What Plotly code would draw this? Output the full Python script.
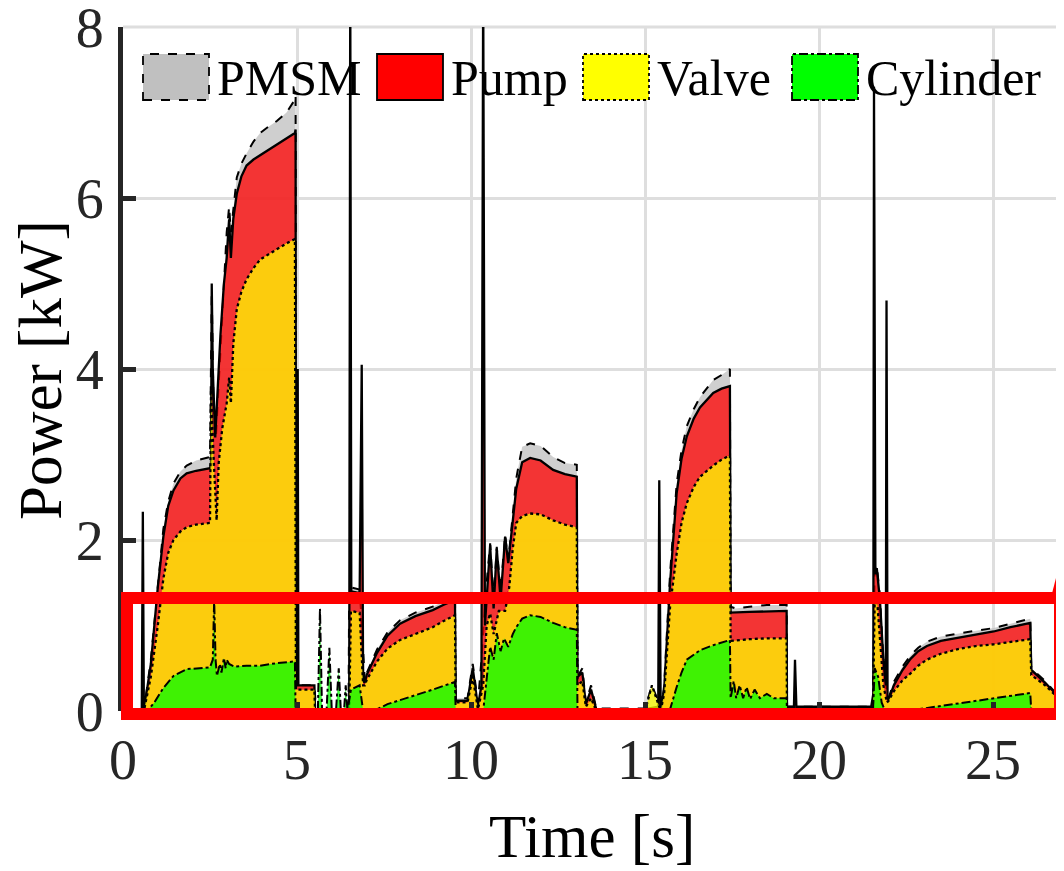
import plotly.graph_objects as go

# ---------------- data ----------------
pmsm_t = [0, 0.6, 0.8, 1.0, 1.16, 1.3, 1.45, 1.65, 1.83, 2.1, 2.5,
          2.55, 2.6, 2.67, 2.75, 2.85, 2.98, 3.05, 3.1, 3.17, 3.27, 3.4, 3.55, 3.75, 3.94, 4.2, 4.42, 4.7, 4.94, 4.96,
          4.97, 5.5, 5.55, 6.48, 6.5, 6.8, 6.82, 6.95, 7.0, 7.3, 7.6, 7.96, 8.4, 8.9, 9.2, 9.54,
          9.56, 9.9, 10.05, 10.2, 10.3, 10.45, 10.55, 10.65, 10.74, 10.85, 10.98, 11.07, 11.2, 11.3, 11.47, 11.7,
          12.0, 12.36, 12.7, 13.04, 13.06, 13.2, 13.3, 13.45, 13.6, 15.0, 15.2, 15.47, 15.55, 15.72, 15.91, 16.05,
          16.2, 16.4, 16.58, 16.96, 17.2, 17.44, 17.46, 17.6, 18.0, 18.5, 19.07, 19.08, 21.5, 21.55, 21.6, 21.66,
          21.75, 21.85, 21.95, 22.0, 22.15, 22.4, 22.63, 22.85, 23.1, 23.5, 24.06, 24.5, 25.02, 25.5, 26.07, 26.1,
          26.5, 26.83, 27.04]
pmsm_p = [0, 0, 0.6, 1.5, 2.13, 2.45, 2.66, 2.8, 2.87, 2.93, 2.97,
          4.9, 3.6, 3.2, 3.9, 4.6, 5.6, 5.9, 5.6, 5.86, 6.24, 6.4, 6.52, 6.66, 6.76, 6.84, 6.9, 7.0, 7.15, 7.2,
          0.3, 0.3, 0, 0, 1.45, 1.42, 1.3, 0.35, 0.44, 0.72, 0.92, 1.06, 1.15, 1.22, 1.28, 1.35,
          0.15, 0.15, 0.55, 0.1, 0.6, 1.5, 1.96, 1.3, 1.92, 1.4, 2.06, 1.75, 2.3, 2.72, 3.09, 3.13,
          3.1, 2.97, 2.9, 2.88, 0.4, 0.5, 0.1, 0.3, 0.03, 0.03, 0.3, 0.02, 0.3, 1.61, 2.66, 3.05,
          3.33, 3.53, 3.67, 3.87, 3.93, 4.0, 1.22, 1.2, 1.22, 1.24, 1.24, 0.05, 0.05, 0.1, 1.6, 1.7,
          1.35, 0.6, 0.2, 0.15, 0.34, 0.52, 0.65, 0.74, 0.81, 0.87, 0.91, 0.94, 0.97, 1.02, 1.08, 0.5,
          0.35, 0.2, 0.12]

pump_t = [0, 0.54, 0.57, 0.6, 0.8, 1.0, 1.16, 1.3, 1.45, 1.65, 1.83, 2.1, 2.5, 2.53, 2.55, 2.58, 2.65, 2.72,
          2.8, 2.9, 2.98, 3.05, 3.1, 3.17, 3.27, 3.4, 3.55, 3.75, 3.94, 4.2, 4.42, 4.7, 4.94, 4.96, 4.97, 5.0,
          5.02, 5.04, 5.5, 5.52, 6.5, 6.53, 6.56, 6.8, 6.86, 6.9, 6.95, 7.0, 7.3, 7.6, 7.96, 8.4, 8.9, 9.2, 9.54,
          9.56, 9.9, 10.05, 10.2, 10.3, 10.35, 10.4, 10.55, 10.65, 10.74, 10.85, 10.98, 11.07, 11.2, 11.3, 11.47,
          11.7, 12.0, 12.36, 12.7, 13.04, 13.06, 13.2, 13.3, 13.45, 13.6, 15.0, 15.38, 15.41, 15.45, 15.55,
          15.72, 15.91, 16.05, 16.2, 16.4, 16.58, 16.96, 17.2, 17.44, 17.46, 18.0, 19.07, 19.08, 19.28, 19.31,
          19.35, 21.5, 21.56, 21.58, 21.62, 21.66, 21.75, 21.85, 21.92, 21.94, 21.97, 22.0, 22.15, 22.4, 22.63,
          22.85, 23.1, 23.5, 24.06, 24.5, 25.02, 25.5, 26.07, 26.1, 26.5, 26.83, 27.04]
pump_p = [0, 0, 2.33, 0, 0.55, 1.45, 2.04, 2.4, 2.58, 2.72, 2.78, 2.81, 2.84, 2.9, 5.0, 4.0, 3.2, 3.8,
          4.4, 5.0, 5.3, 5.75, 5.3, 5.76, 6.05, 6.25, 6.38, 6.45, 6.5, 6.56, 6.62, 6.7, 6.76, 6.8, 0.3, 0.3,
          4.0, 0.3, 0.3, 0, 0, 8.6, 1.4, 1.38, 4.05, 0.35, 0.33, 0.42, 0.68, 0.88, 1.02, 1.11, 1.18, 1.24, 1.3,
          0.12, 0.12, 0.5, 0.05, 0.3, 8.6, 1.0, 1.94, 1.2, 1.9, 1.3, 2.04, 1.73, 2.2, 2.6, 2.91,
          2.96, 2.93, 2.82, 2.77, 2.74, 0.4, 0.45, 0.08, 0.25, 0.02, 0.02, 0.05, 2.7, 0.02, 0.25,
          1.5, 2.55, 2.95, 3.21, 3.42, 3.55, 3.72, 3.77, 3.8, 1.15, 1.16, 1.17, 0.05, 0.05, 0.6,
          0.05, 0.05, 0.2, 7.3, 1.6, 1.67, 1.3, 0.6, 0.3, 4.8, 0.15, 0.13, 0.3, 0.48, 0.61,
          0.7, 0.76, 0.82, 0.86, 0.9, 0.93, 0.98, 1.03, 0.48, 0.33, 0.19, 0.11]

valve_t = [0, 0.6, 0.8, 1.0, 1.16, 1.3, 1.45, 1.65, 1.83, 2.1, 2.5, 2.53, 2.6, 2.69, 2.75, 2.85, 2.98, 3.05,
           3.1, 3.17, 3.27, 3.4, 3.55, 3.75, 3.94, 4.2, 4.42, 4.7, 4.94, 4.97, 5.5, 5.52, 6.5, 6.55, 6.8, 6.9,
           6.95, 7.0, 7.3, 7.6, 7.96, 8.4, 8.9, 9.2, 9.54, 9.56, 9.9, 10.05, 10.2, 10.35, 10.45, 10.55, 10.65,
           10.8, 10.98, 11.1, 11.2, 11.3, 11.47, 11.7, 12.0, 12.36, 12.7, 13.04, 13.06, 13.2, 13.3, 13.45, 13.6,
           15.0, 15.2, 15.45, 15.55, 15.72, 15.91, 16.05, 16.2, 16.4, 16.58, 16.96, 17.2, 17.44, 17.46, 18.0,
           18.5, 19.07, 19.08, 21.55, 21.6, 21.66, 21.75, 21.85, 21.95, 22.0, 22.15, 22.4, 22.63, 22.85, 23.1,
           23.5, 24.06, 24.5, 25.02, 25.5, 26.07, 26.1, 26.5, 26.83, 27.04]
valve_p = [0, 0, 0.4, 1.0, 1.55, 1.85, 2.0, 2.1, 2.15, 2.18, 2.2, 3.76, 3.0, 2.23, 2.9, 3.3, 3.6, 3.9,
           3.6, 4.3, 4.7, 4.9, 5.05, 5.18, 5.28, 5.35, 5.4, 5.47, 5.52, 0.25, 0.25, 0, 0, 1.17, 1.15, 0.3,
           0.3, 0.36, 0.58, 0.73, 0.83, 0.9, 0.98, 1.05, 1.12, 0.1, 0.1, 0.4, 0.02, 0.3, 1.0, 1.14, 0.9,
           1.17, 1.17, 1.45, 1.9, 2.2, 2.28, 2.31, 2.3, 2.23, 2.18, 2.15, 0.3, 0.35, 0.05, 0.15, 0,
           0, 0.3, 0, 0.2, 1.22, 1.84, 2.2, 2.43, 2.62, 2.74, 2.87, 2.94, 2.99, 0.82, 0.84,
           0.85, 0.85, 0, 0, 1.3, 1.35, 0.9, 0.3, 0.1, 0.12, 0.23, 0.36, 0.44, 0.53, 0.6,
           0.67, 0.73, 0.76, 0.78, 0.81, 0.84, 0.42, 0.3, 0.17, 0.1]

cyl_t = [0, 0.7, 0.9, 1.16, 1.45, 1.83, 2.2, 2.5, 2.58, 2.62, 2.66, 2.7, 2.78, 2.83, 2.9, 2.95, 2.98, 3.05,
         3.2, 3.55, 3.94, 4.42, 4.94, 4.96, 5.6, 5.66, 5.72, 5.85, 5.93, 6.0, 6.12, 6.2, 6.26, 6.35, 6.4, 6.45,
         6.55, 6.8, 6.9, 7.2, 7.6, 8.0, 8.4, 8.9, 9.54, 9.56, 10.35, 10.45, 10.55, 10.65, 10.74, 10.85, 10.95,
         11.07, 11.2, 11.3, 11.47, 11.7, 12.0, 12.36, 12.7, 13.04, 13.06, 15.5, 15.72, 15.91, 16.05, 16.2, 16.4,
         16.58, 16.96, 17.2, 17.44, 17.46, 17.55, 17.62, 17.72, 17.82, 17.92, 18.02, 18.15, 18.3, 18.5, 18.7,
         19.07, 19.08, 21.55, 21.6, 21.7, 21.8, 21.9, 22.5, 23.0, 23.5, 24.06, 24.5, 25.02, 25.5, 26.07, 26.1,
         27.04]
cyl_p = [0, 0, 0.1, 0.27, 0.41, 0.49, 0.5, 0.51, 0.6, 1.3, 0.6, 0.41, 0.55, 0.45, 0.62, 0.5, 0.6, 0.55,
         0.52, 0.53, 0.53, 0.56, 0.58, 0, 0, 1.2, 0, 0, 0.74, 0, 0, 0.5, 0, 0, 0.3, 0,
         0.25, 0.3, 0, 0, 0.08, 0.13, 0.18, 0.25, 0.34, 0, 0, 0.4, 0.75, 0.6, 0.91, 0.7, 0.85,
         0.75, 0.9, 0.98, 1.08, 1.12, 1.1, 1.03, 0.98, 0.95, 0, 0, 0.02, 0.28, 0.45, 0.6, 0.66,
         0.71, 0.77, 0.8, 0.83, 0.15, 0.35, 0.15, 0.3, 0.15, 0.28, 0.14, 0.25, 0.15, 0.2, 0.15,
         0.15, 0, 0, 0.5, 0.4, 0.1, 0, 0, 0.03, 0.06, 0.09, 0.12, 0.15, 0.18, 0.21, 0,
         0]

series_names = ["PMSM", "Pump", "Valve", "Cylinder"]
x_ticks = [0, 5, 10, 15, 20, 25]
y_ticks = [0, 2, 4, 6, 8]
x_title = "Time [s]"
y_title = "Power [kW]"

# ---------------- styling ----------------
OFF = 8                      # page body margin
W, H = 1064 - OFF, 871 - OFF
PL, PT, PB = 123, 27, 711    # plot area in window pixels
L, R, T = PL - OFF, 0, PT - OFF
B = H - (PB - OFF)
FONT = "Liberation Serif"
fills = ["rgba(191,191,191,0.75)", "rgba(255,0,0,0.75)", "rgba(255,255,0,0.75)", "rgba(0,255,0,0.75)"]
solid = ["#c0c0c0", "#ff0000", "#ffff00", "#00ff00"]
dashes = ["dash", "solid", "dot", "dashdot"]
widths = [2.0, 2.3, 2.3, 2.0]

fig = go.Figure()
for name, tt, pp, fc, ds, lw in zip(series_names,
                                    [pmsm_t, pump_t, valve_t, cyl_t],
                                    [pmsm_p, pump_p, valve_p, cyl_p],
                                    fills, dashes, widths):
    fig.add_trace(go.Scatter(x=tt, y=pp, mode="lines", name=name, fill="tozeroy",
                             fillcolor=fc, line=dict(color="black", width=lw, dash=ds),
                             showlegend=False, hoverinfo="skip"))

pw, ph = W - L - R, H - T - B


def px2paper(px, py):
    """window pixel -> paper coordinate"""
    return (px - PL) / pw, (PB - py) / ph


shapes = []
annotations = []
# top grid line (y = 8)
shapes.append(dict(type="line", xref="paper", yref="paper", x0=0, x1=1, y0=1, y1=1,
                   line=dict(color="#dedede", width=3), layer="below"))
# custom legend
leg_x = [143, 377, 583, 792]
for i, name in enumerate(series_names):
    x0, y0 = px2paper(leg_x[i], 100)
    x1, y1 = px2paper(leg_x[i] + 66, 54)
    shapes.append(dict(type="rect", xref="paper", yref="paper", x0=x0, x1=x1, y0=y0, y1=y1,
                       fillcolor=solid[i], line=dict(color="black", width=1.8, dash=dashes[i]),
                       layer="above"))
    tx, ty = px2paper(leg_x[i] + 72, 78)
    annotations.append(dict(text=name, xref="paper", yref="paper", x=tx, y=ty, xanchor="left",
                            yanchor="middle", showarrow=False,
                            font=dict(family=FONT, size=50, color="black")))

# axis titles
ax_x, ax_y = px2paper(592, 836)
annotations.append(dict(text=x_title, xref="paper", yref="paper", x=ax_x, y=ax_y, xanchor="center",
                        yanchor="middle", showarrow=False, font=dict(family=FONT, size=61, color="black")))
ay_x, ay_y = px2paper(40, 370)
annotations.append(dict(text=y_title, xref="paper", yref="paper", x=ay_x, y=ay_y, xanchor="center",
                        yanchor="middle", textangle=-90, showarrow=False,
                        font=dict(family=FONT, size=61, color="black")))

# red zoom rectangle + connector
rx0, ry0 = px2paper(127, 714)
rx1, ry1 = px2paper(1060, 598)
shapes.append(dict(type="rect", xref="paper", yref="paper", x0=rx0, x1=rx1, y0=ry0, y1=ry1,
                   line=dict(color="#ff0000", width=12), layer="above"))
cx0, cy0 = px2paper(1057, 598)
cx1, cy1 = px2paper(1085, 490)
shapes.append(dict(type="line", xref="paper", yref="paper", x0=cx0, x1=cx1, y0=cy0, y1=cy1,
                   line=dict(color="#ff0000", width=12), layer="above"))

fig.update_layout(
    width=W, height=H, margin=dict(l=L, r=R, t=T, b=B, pad=0, autoexpand=False),
    paper_bgcolor="white", plot_bgcolor="white",
    font=dict(family=FONT, color="#262626"),
    shapes=shapes, annotations=annotations,
    xaxis=dict(range=[0, 27.04], tickvals=x_ticks, ticktext=[str(v) for v in x_ticks],
               automargin=False,
               ticks="inside", ticklen=9, tickwidth=5, tickcolor="#262626",
               showline=False, zeroline=False, showgrid=True, gridcolor="#dedede", gridwidth=3,
               ticklabelstandoff=11, ticklabeloverflow="allow",
               tickfont=dict(family=FONT, size=56, color="#262626")),
    yaxis=dict(range=[0, 8], tickvals=y_ticks, ticktext=[str(v) for v in y_ticks],
               automargin=False,
               ticks="inside", ticklen=13, tickwidth=5, tickcolor="#262626",
               showline=True, linewidth=5, linecolor="#262626",
               zeroline=False, showgrid=True, gridcolor="#dedede", gridwidth=3,
               ticklabelstandoff=3, ticklabeloverflow="allow",
               tickfont=dict(family=FONT, size=56, color="#262626")),
)

fig.write_html("out.html")
